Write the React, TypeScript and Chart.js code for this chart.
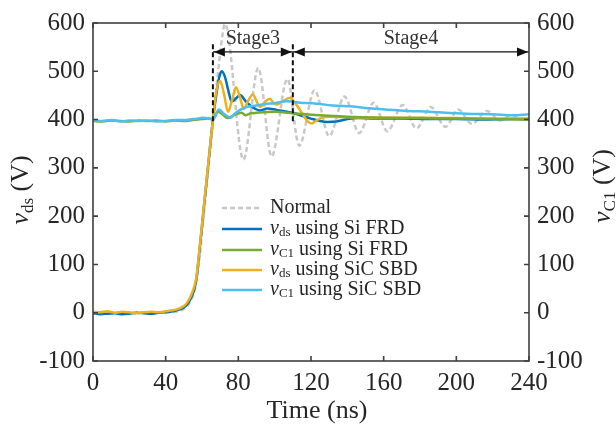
import React, { useEffect, useRef } from "react";
import { Chart, registerables } from "chart.js";
Chart.register(...registerables);

const FONT = "'Liberation Serif', 'Times New Roman', serif";

// Tick values
const xTickValues = [0, 40, 80, 120, 160, 200, 240];
const yTickValues = [-100, 0, 100, 200, 300, 400, 500, 600];

// Normal (grey dashed)
const tNormal = [0, 6, 12, 18, 24, 30, 36, 42, 48, 52, 54, 56, 58, 60, 62, 64, 66, 68, 70, 72.7, 82.8, 91, 98.3, 107, 113.5, 122, 130, 138.5, 146.5, 154.5, 162, 170.5, 178, 186, 194, 201, 208.5, 217, 224, 230.5, 236, 240];
const vNormal = [0, 1, -1, 1, 0, 1, 0, 1, 4, 14, 27, 48, 92, 166, 242, 318, 393, 468, 538, 598, 317, 507, 324, 484, 346, 461, 366, 448, 372, 435, 376, 430, 382, 426, 385, 421, 391, 418, 398, 410, 400, 404];

// v_ds using Si FRD (blue)
const tDsSi = [0, 4, 8, 12, 16, 20, 24, 28, 32, 36, 40, 44, 47, 50, 52, 54, 56, 57, 58, 60, 62, 64, 66, 68, 69.5, 70.8, 72.5, 74.5, 76.3, 78.5, 81, 84, 88, 92, 96, 101, 106, 110, 114, 120, 125, 129, 134, 140, 146, 155, 170, 185, 200, 215, 230, 240];
const vDsSi = [-1, -3, -2, -1, -3, -2, 0, -1, -2, 0, 1, 3, 6, 11, 18, 31, 52, 72, 106, 180, 254, 327, 400, 455, 488, 500, 490, 460, 437, 443, 451, 438, 425, 419, 423, 420, 417, 414, 409, 402, 397, 395, 396, 401, 403, 402, 402, 401, 401, 400, 401, 401];

// v_C1 using Si FRD (green)
const tC1Si = [0, 5, 10, 15, 20, 25, 30, 35, 40, 45, 50, 55, 60, 63, 66, 69, 71.5, 74, 77, 81.8, 84, 87, 90, 100, 110, 120, 140, 160, 180, 200, 220, 240];
const vC1Si = [397, 396, 398, 397, 396, 398, 397, 398, 396, 398, 397, 399, 401, 402, 401, 416, 410, 403, 408, 414, 409, 413, 414, 416, 413, 410, 406, 404, 403, 402, 401, 400];

// v_ds using SiC SBD (orange)
const tDsSiC = [0, 4, 8, 12, 16, 20, 24, 28, 32, 36, 40, 44, 47, 50, 52, 54, 56, 57, 58, 60, 62, 64, 66, 68, 70, 72, 74.3, 76.5, 78.7, 81, 83, 85.5, 88, 90, 92, 94.7, 97.4, 99, 101, 104, 108.4, 110.5, 113, 116, 118, 120.4, 123, 126, 130, 140, 160, 180, 200, 220, 240];
const vDsSiC = [2, 1, 3, 0, 2, 1, -1, 1, 2, 1, 3, 5, 8, 14, 22, 36, 58, 76, 110, 183, 257, 329, 400, 462, 480, 455, 416, 440, 467, 445, 422, 440, 452, 438, 426, 437, 443, 436, 431, 437, 445, 438, 425, 408, 397, 392, 398, 404, 406, 405, 404, 404, 403, 402, 402];

// v_C1 using SiC SBD (light blue)
const tC1SiC = [0, 5, 10, 15, 20, 25, 30, 35, 40, 45, 50, 55, 58, 60, 63, 66, 68, 69.3, 72, 75.8, 78, 81, 84.6, 90, 95.6, 100, 106.6, 110, 114, 121, 132, 143, 150, 169, 185, 205.7, 220, 231, 240];
const vC1SiC = [398, 397, 399, 396, 398, 397, 398, 396, 397, 399, 399, 401, 402, 404, 403, 400, 414, 421, 412, 404, 412, 420, 426, 429, 433, 434, 438, 437, 435, 434, 429, 427, 424, 419, 416, 412, 411, 409, 411];

// Stage annotations
const stageBounds = [66, 110, 240];
const stageLabels = ["Stage3", "Stage4"];

const toXY = (t: number[], v: number[]) => t.map((x, i) => ({ x, y: v[i] }));

type Part = { t: string; italic?: boolean; sub?: boolean };

function richWidth(ctx: CanvasRenderingContext2D, parts: Part[], size: number, subSize: number) {
  let w = 0;
  for (const p of parts) {
    ctx.font = `${p.italic ? "italic " : ""}${p.sub ? subSize : size}px ${FONT}`;
    w += ctx.measureText(p.t).width;
  }
  return w;
}

function drawRich(ctx: CanvasRenderingContext2D, parts: Part[], x: number, y: number, size: number, subSize: number, subDrop: number) {
  let cx = x;
  for (const p of parts) {
    ctx.font = `${p.italic ? "italic " : ""}${p.sub ? subSize : size}px ${FONT}`;
    ctx.fillText(p.t, cx, p.sub ? y + subDrop : y);
    cx += ctx.measureText(p.t).width;
  }
}

const COLORS = {
  normal: "#c8c8c8",
  dsSi: "#0072BD",
  c1Si: "#77AC30",
  dsSiC: "#EDB120",
  c1SiC: "#4DBEEE",
};

const legendItems: { parts: Part[]; color: string; dash: boolean }[] = [
  { parts: [{ t: "Normal" }], color: COLORS.normal, dash: true },
  { parts: [{ t: "v", italic: true }, { t: "ds", sub: true }, { t: " using Si FRD" }], color: COLORS.dsSi, dash: false },
  { parts: [{ t: "v", italic: true }, { t: "C1", sub: true }, { t: " using Si FRD" }], color: COLORS.c1Si, dash: false },
  { parts: [{ t: "v", italic: true }, { t: "ds", sub: true }, { t: " using SiC SBD" }], color: COLORS.dsSiC, dash: false },
  { parts: [{ t: "v", italic: true }, { t: "C1", sub: true }, { t: " using SiC SBD" }], color: COLORS.c1SiC, dash: false },
];

const decorPlugin = {
  id: "decor",
  afterDatasetsDraw(chart: any) {
    const ctx: CanvasRenderingContext2D = chart.ctx;
    const { left, right, top, bottom } = chart.chartArea;
    const xs = chart.scales.x;
    const ys = chart.scales.y;
    ctx.save();

    // Stage annotations
    ctx.strokeStyle = "#111";
    ctx.lineWidth = 2;
    ctx.setLineDash([5, 3]);
    for (const b of stageBounds.slice(0, 2)) {
      const px = xs.getPixelForValue(b);
      ctx.beginPath();
      ctx.moveTo(px, ys.getPixelForValue(556));
      ctx.lineTo(px, ys.getPixelForValue(396));
      ctx.stroke();
    }
    ctx.setLineDash([]);
    const ay = ys.getPixelForValue(540);
    ctx.lineWidth = 1.2;
    ctx.fillStyle = "#111";
    const arrow = (x0: number, x1: number) => {
      ctx.beginPath();
      ctx.moveTo(x0, ay);
      ctx.lineTo(x1, ay);
      ctx.stroke();
      const head = (tip: number, dir: number) => {
        ctx.beginPath();
        ctx.moveTo(tip, ay);
        ctx.lineTo(tip - dir * 11, ay - 4.5);
        ctx.lineTo(tip - dir * 11, ay + 4.5);
        ctx.closePath();
        ctx.fill();
      };
      head(x0 + 1, -1);
      head(x1 - 1, 1);
    };
    ctx.font = `20px ${FONT}`;
    ctx.textAlign = "center";
    ctx.textBaseline = "alphabetic";
    for (let i = 0; i < 2; i++) {
      const x0 = xs.getPixelForValue(stageBounds[i]);
      const x1 = xs.getPixelForValue(stageBounds[i + 1]);
      arrow(x0, x1);
      ctx.fillStyle = "#333";
      ctx.fillText(stageLabels[i], (x0 + x1) / 2, ay - 8);
      ctx.fillStyle = "#111";
    }

    // Frame
    ctx.strokeStyle = "#404040";
    ctx.lineWidth = 1.6;
    ctx.strokeRect(left, top, right - left, bottom - top);
    const tl = 5;
    ctx.beginPath();
    for (const v of xTickValues) {
      const px = xs.getPixelForValue(v);
      ctx.moveTo(px, bottom);
      ctx.lineTo(px, bottom - tl);
      ctx.moveTo(px, top);
      ctx.lineTo(px, top + tl);
    }
    for (const v of yTickValues) {
      const py = ys.getPixelForValue(v);
      ctx.moveTo(left, py);
      ctx.lineTo(left + tl, py);
      ctx.moveTo(right, py);
      ctx.lineTo(right - tl, py);
    }
    ctx.stroke();

    // Legend
    ctx.textAlign = "left";
    ctx.textBaseline = "middle";
    const lx0 = 222, lx1 = 262, tx = 270;
    const rows = [208, 229, 250, 270, 290];
    legendItems.forEach((it, i) => {
      const y = rows[i];
      ctx.strokeStyle = it.color;
      ctx.lineWidth = 2.5;
      ctx.setLineDash(it.dash ? [5, 3] : []);
      ctx.beginPath();
      ctx.moveTo(lx0, y);
      ctx.lineTo(lx1, y);
      ctx.stroke();
      ctx.setLineDash([]);
      ctx.fillStyle = "#262626";
      drawRich(ctx, it.parts, tx, y, 20, 13, 4);
    });

    // Axis titles
    ctx.fillStyle = "#262626";
    ctx.textBaseline = "alphabetic";
    ctx.textAlign = "left";
    ctx.font = `26px ${FONT}`;
    const xt = "Time (ns)";
    const xw = ctx.measureText(xt).width;
    ctx.fillText(xt, 317 - xw / 2, 418);

    const leftParts: Part[] = [{ t: "v", italic: true }, { t: "ds", sub: true }, { t: " (V)" }];
    const rightParts: Part[] = [{ t: "v", italic: true }, { t: "C1", sub: true }, { t: " (V)" }];
    const drawV = (parts: Part[], bx: number, cy: number) => {
      const w = richWidth(ctx, parts, 26, 17);
      ctx.save();
      ctx.translate(bx, cy);
      ctx.rotate(-Math.PI / 2);
      drawRich(ctx, parts, -w / 2, 0, 26, 17, 5);
      ctx.restore();
    };
    drawV(leftParts, 28, 190);
    drawV(rightParts, 610, 186);

    ctx.restore();
  },
};

export default function App() {
  const ref = useRef<HTMLCanvasElement | null>(null);
  useEffect(() => {
    if (!ref.current) return;
    const ds = (label: string, t: number[], v: number[], color: string, order: number, dash?: number[]) => ({
      label,
      data: toXY(t, v),
      borderColor: color,
      backgroundColor: color,
      borderWidth: 2.5,
      borderDash: dash || [],
      pointRadius: 0,
      cubicInterpolationMode: "monotone" as const,
      fill: false,
      order,
    });
    const tickFont = { family: FONT, size: 25 };
    const yScale = (position: "left" | "right", w: number) => ({
      type: "linear" as const,
      position,
      min: -100,
      max: 600,
      afterBuildTicks: (s: any) => { s.ticks = yTickValues.map((value) => ({ value })); },
      ticks: { font: tickFont, color: "#262626", padding: 8 },
      grid: { display: false, drawTicks: false },
      border: { display: false },
      afterFit: (s: any) => { s.width = w; },
    });
    const chart = new Chart(ref.current, {
      type: "line",
      data: {
        datasets: [
          ds("Normal", tNormal, vNormal, COLORS.normal, 5, [5, 3]),
          ds("vds Si FRD", tDsSi, vDsSi, COLORS.dsSi, 4),
          ds("vC1 Si FRD", tC1Si, vC1Si, COLORS.c1Si, 2),
          ds("vds SiC SBD", tDsSiC, vDsSiC, COLORS.dsSiC, 3),
          ds("vC1 SiC SBD", tC1SiC, vC1SiC, COLORS.c1SiC, 1),
        ],
      },
      options: {
        responsive: false,
        animation: false,
        layout: { padding: { top: 18, left: 0, right: 0, bottom: 0 } },
        plugins: { legend: { display: false }, tooltip: { enabled: false } },
        scales: {
          x: {
            type: "linear",
            min: 0,
            max: 240,
            afterBuildTicks: (s: any) => { s.ticks = xTickValues.map((value) => ({ value })); },
            ticks: { font: tickFont, color: "#262626", padding: 7, maxRotation: 0 },
            grid: { display: false, drawTicks: false },
            border: { display: false },
            afterFit: (s: any) => { s.height = 67; },
          },
          y: yScale("left", 93),
          y2: yScale("right", 87),
        },
      },
      plugins: [decorPlugin],
    });
    return () => chart.destroy();
  }, []);
  return (
    <div style={{ position: "absolute", left: 0, top: 0, width: 616, height: 428, background: "#fff" }}>
      <canvas ref={ref} width={616} height={428} style={{ display: "block" }} />
    </div>
  );
}
